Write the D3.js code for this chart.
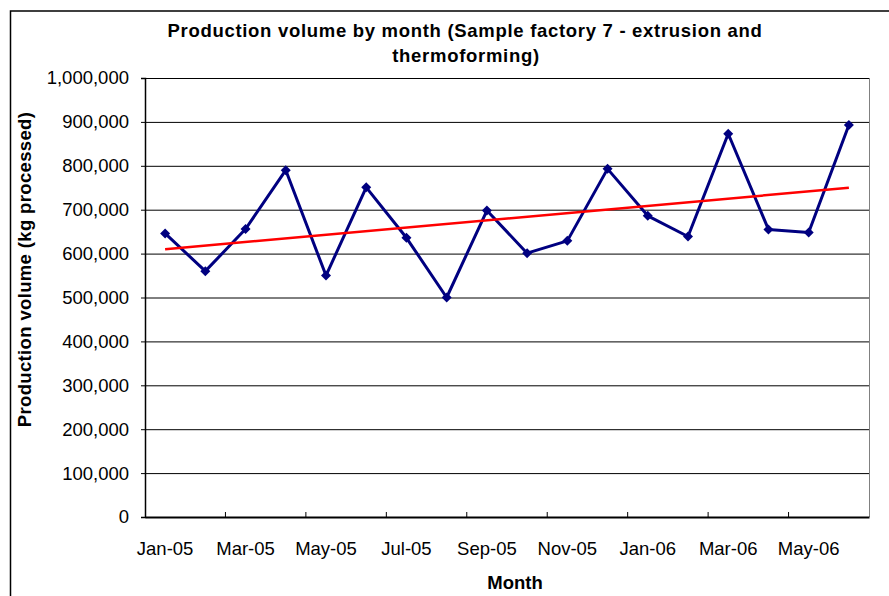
<!DOCTYPE html>
<html lang="en">
<head>
<meta charset="utf-8">
<title>Production volume by month</title>
<script src="https://cdn.jsdelivr.net/npm/d3@7/dist/d3.min.js"></script>
<style>
  body { margin: 0; background: #fff; }
  text { font-family: Arial, "Liberation Sans", sans-serif; fill: #000; }
</style>
</head>
<body>
<script>
  var months = ["Jan-05","Feb-05","Mar-05","Apr-05","May-05","Jun-05","Jul-05","Aug-05","Sep-05",
                "Oct-05","Nov-05","Dec-05","Jan-06","Feb-06","Mar-06","Apr-06","May-06","Jun-06"];
  var volume = [646000, 560000, 656000, 790000, 550000, 751000, 636000, 500000, 698000,
                601000, 629000, 793000, 686000, 639000, 873000, 655000, 648000, 893000];
  // linear trend read at first and last month
  var trendMonths = ["Jan-05", "Jun-06"];
  var trendValues = [610000, 750000];
  var yTicks = [0,100000,200000,300000,400000,500000,600000,700000,800000,900000,1000000];

  var W = 889, H = 596;
  var margin = {top: 78, right: 20, bottom: 79, left: 145};
  var w = 869 - margin.left;
  var h = 517 - margin.top;

  var svg = d3.select("body").append("svg")
      .attr("width", W).attr("height", H);

  // chart area border
  svg.append("rect")
      .attr("x", 10.5).attr("y", 11)
      .attr("width", W + 20).attr("height", H + 20)
      .attr("fill", "none").attr("stroke", "#000").attr("stroke-width", 1.5);

  var g = svg.append("g")
      .attr("transform", "translate(" + margin.left + "," + margin.top + ")");

  var x = d3.scaleBand().domain(months).range([0, w]).padding(0);
  var y = d3.scaleLinear().domain([0, 1000000]).range([h, 0]);

  // gridlines
  g.append("g")
      .call(d3.axisLeft(y).tickValues(yTicks).tickSize(-w).tickFormat(""))
      .call(function(s) {
        s.select(".domain").remove();
        s.selectAll("line").attr("stroke", "#000").attr("stroke-width", 1);
      });

  // right border of plot area
  g.append("line")
      .attr("x1", w + 0.5).attr("x2", w + 0.5).attr("y1", 0).attr("y2", h)
      .attr("stroke", "#808080").attr("stroke-width", 1);

  // y axis
  g.append("g")
      .call(d3.axisLeft(y).tickValues(yTicks).tickSize(4).tickPadding(12).tickFormat(d3.format(",")))
      .call(function(s) {
        s.select(".domain").attr("stroke", "#000").attr("stroke-width", 1.5);
        s.selectAll("line").attr("stroke", "#000");
        s.selectAll("text").style("font-size", "18.5px");
      });

  // x axis labels (every other month, centred on the month)
  var labelMonths = months.filter(function(d, i) { return i % 2 === 0; });
  g.append("g")
      .attr("transform", "translate(0," + h + ")")
      .call(d3.axisBottom(x).tickValues(labelMonths).tickSize(0).tickPadding(25))
      .call(function(s) {
        s.select(".domain").attr("stroke", "#000").attr("stroke-width", 2);
        s.selectAll("text").style("font-size", "18.5px");
      });

  // x tick marks at month boundaries
  g.append("g").selectAll("line")
      .data(labelMonths.slice(1))
      .enter().append("line")
      .attr("x1", function(d) { return x(d); })
      .attr("x2", function(d) { return x(d); })
      .attr("y1", h).attr("y2", h - 5)
      .attr("stroke", "#000").attr("stroke-width", 1);

  var cx = function(d) { return x(d) + x.bandwidth() / 2; };

  // series line
  var data = months.map(function(m, i) { return {m: m, v: volume[i]}; });
  g.append("path")
      .datum(data)
      .attr("fill", "none")
      .attr("stroke", "#000080")
      .attr("stroke-width", 3)
      .attr("stroke-linejoin", "round")
      .attr("d", d3.line().x(function(d) { return cx(d.m); }).y(function(d) { return y(d.v); }));

  // trend line
  var trend = trendMonths.map(function(m, i) { return {m: m, v: trendValues[i]}; });
  g.append("path")
      .datum(trend)
      .attr("fill", "none")
      .attr("stroke", "#ff0000")
      .attr("stroke-width", 2.5)
      .attr("d", d3.line().x(function(d) { return cx(d.m); }).y(function(d) { return y(d.v); }));

  // diamond markers
  g.selectAll(".pt")
      .data(data)
      .enter().append("path")
      .attr("class", "pt")
      .attr("transform", function(d) { return "translate(" + cx(d.m) + "," + y(d.v) + ")"; })
      .attr("d", "M0,-5L5,0L0,5L-5,0Z")
      .attr("fill", "#000080");

  // titles
  svg.append("text")
      .attr("x", 465).attr("y", 36.5)
      .attr("text-anchor", "middle")
      .style("font-size", "18.5px").style("font-weight", "bold")
      .style("letter-spacing", "0.7px")
      .text("Production volume by month (Sample factory 7 - extrusion and");
  svg.append("text")
      .attr("x", 466).attr("y", 62)
      .attr("text-anchor", "middle")
      .style("font-size", "18.5px").style("font-weight", "bold")
      .style("letter-spacing", "0.7px")
      .text("thermoforming)");

  svg.append("text")
      .attr("x", 515).attr("y", 589)
      .attr("text-anchor", "middle")
      .style("font-size", "18.5px").style("font-weight", "bold")
      .text("Month");

  svg.append("text")
      .attr("transform", "translate(31,269.5) rotate(-90)")
      .attr("text-anchor", "middle")
      .style("font-size", "18.5px").style("font-weight", "bold")
      .style("letter-spacing", "0.35px")
      .text("Production volume (kg processed)");
</script>
</body>
</html>
